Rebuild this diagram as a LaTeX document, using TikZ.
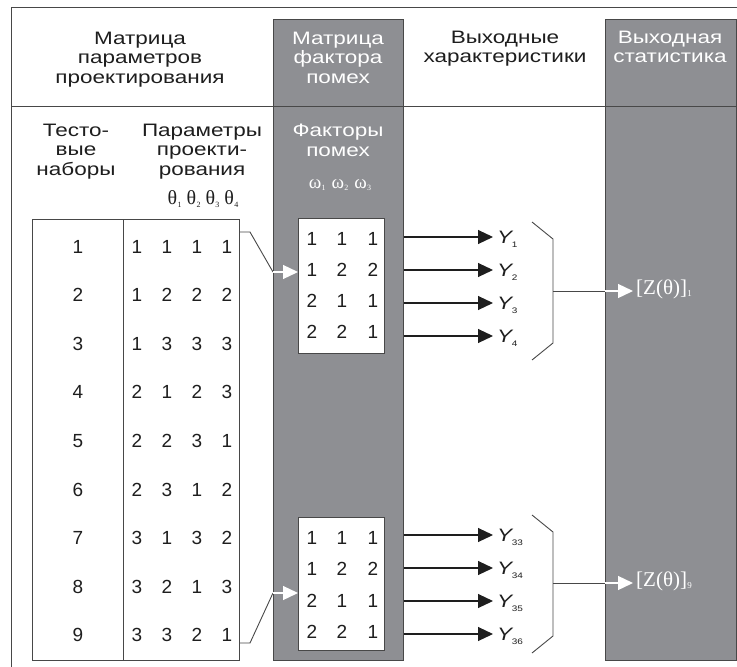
\documentclass[tikz,border=0pt]{standalone}
\usepackage{fontspec}
\setmainfont[FakeStretch=1.25]{Liberation Sans}
\newfontfamily\digitfont{Liberation Sans}
\newfontfamily\serifgreek{Liberation Serif}
\usetikzlibrary{arrows.meta}
\definecolor{panel}{RGB}{142,143,147}
\definecolor{rule}{RGB}{72,72,72}
\definecolor{ink}{RGB}{30,30,30}
\newcommand{\tinysub}[3][-4pt]{\raisebox{#1}{\fontsize{#2}{#2}\selectfont #3}}
\newcommand{\yout}[1]{\textit{Y}\kern-1.8pt\tinysub{8}{#1}}
\newcommand{\thetasub}[1]{θ\kern0.3pt\tinysub[-2.5pt]{8}{#1}}
\newcommand{\omegasub}[1]{ω\kern0.3pt\tinysub[-2.5pt]{8}{#1}}
\newcommand{\zstat}[1]{{\serifgreek\fontsize{21}{21}\selectfont [Z(θ)]\kern0.3pt\tinysub[-2.5pt]{9}{#1}}}
\begin{document}
\begin{tikzpicture}[x=1pt,y=-1pt,
  font=\fontsize{18}{19.4}\selectfont,
  lbl/.style={align=center, text=ink, inner sep=0pt, anchor=north},
  wlbl/.style={align=center, text=white, inner sep=0pt, anchor=north},
  panelcol/.style={draw=rule, fill=panel, line width=0.9pt, inner sep=0pt, anchor=north west},
  frame/.style={draw=rule, line width=0.9pt},
  tablebox/.style={draw=rule, fill=white, line width=0.9pt, inner sep=0pt, anchor=north west},
  cell/.style={inner sep=0pt, text=ink, font=\digitfont\fontsize{19}{19}\selectfont},
  ylbl/.style={inner sep=0pt, text=ink, anchor=base west},
  zlbl/.style={inner sep=0pt, text=white, anchor=west},
  outarrow/.style={draw=ink, line width=1.1pt, -{Triangle[length=15pt,width=14pt]}},
  feed/.style={draw=rule, line width=0.9pt},
  wtip/.style={draw=white, line width=1.3pt, -{Triangle[length=15pt,width=14pt,fill=white]}},
]
\useasboundingbox (0,0) rectangle (737,667);
\fill[white] (0,0) rectangle (737,667);

% outer frame, open at right and bottom
\draw[frame] (11,667) -- (11,7) -- (737,7);

% shaded columns
\node[panelcol, minimum width=130pt, minimum height=641pt] (colN) at (273,19) {};
\node[panelcol, minimum width=131pt, minimum height=641pt] (colS) at (605,19) {};

% rule under the header row
\draw[frame] (11,106) -- (737,106);

% header row
\node[lbl]  (hparam) at (140,32) {Матрица\\параметров\\проектирования};
\node[wlbl] (hnoise) at (338,32) {Матрица\\фактора\\помех};
\node[lbl]  (hout)   at (505,31) {Выходные\\характеристики};
\node[wlbl] (hstat)  at (670,31) {Выходная\\статистика};

% sub-headings
\node[lbl]  (htests)   at (76,124)  {Тесто-\\вые\\наборы};
\node[lbl]  (hdesign)  at (202,124) {Параметры\\проекти-\\рования};
\node[inner sep=0pt, text=ink, font=\serifgreek\fontsize{20}{20}\selectfont] (htheta) at (203,199)
  {\thetasub{1}\hspace{5pt}\thetasub{2}\hspace{5pt}\thetasub{3}\hspace{5pt}\thetasub{4}};
\node[wlbl] (hfactors) at (338,124) {Факторы\\помех};
\node[inner sep=0pt, text=white, font=\serifgreek\fontsize{19}{19}\selectfont] (homega) at (340,185)
  {\omegasub{1}\hspace{6pt}\omegasub{2}\hspace{6pt}\omegasub{3}};

% design matrix: test number and four parameter levels
\node[tablebox, minimum width=207pt, minimum height=441pt] (tbl) at (32,219) {};
\draw[feed] (tbl.north -| 123,0) -- (tbl.south -| 123,0);
\foreach \i/\a/\b/\c/\d in {1/1/1/1/1, 2/1/2/2/2, 3/1/3/3/3, 4/2/1/2/3, 5/2/2/3/1,
                            6/2/3/1/2, 7/3/1/3/2, 8/3/2/1/3, 9/3/3/2/1} {
  \pgfmathsetmacro{\yy}{246.5+(\i-1)*48.6}
  \node[cell] (n\i)  at (78,\yy)  {\i};
  \node[cell] (p\i a) at (137,\yy) {\a};
  \node[cell] (p\i b) at (167,\yy) {\b};
  \node[cell] (p\i c) at (197,\yy) {\c};
  \node[cell] (p\i d) at (227,\yy) {\d};
}

% noise factor matrices
\node[tablebox, minimum width=86pt, minimum height=135pt] (boxA) at (298,218) {};
\node[tablebox, minimum width=86pt, minimum height=133pt] (boxB) at (298,517) {};
\foreach \r/\u/\v/\w in {1/1/1/1, 2/1/2/2, 3/2/1/1, 4/2/2/1} {
  \pgfmathsetmacro{\ya}{239+(\r-1)*31}
  \pgfmathsetmacro{\yb}{538+(\r-1)*31.3}
  \node[cell] (a\r u) at (312,\ya) {\u};
  \node[cell] (a\r v) at (342,\ya) {\v};
  \node[cell] (a\r w) at (373,\ya) {\w};
  \node[cell] (b\r u) at (312,\yb) {\u};
  \node[cell] (b\r v) at (342,\yb) {\v};
  \node[cell] (b\r w) at (373,\yb) {\w};
}

% feeds from test sets 1 and 9 into the noise matrices
\draw[feed] (tbl.east |- 0,232) -- (250,232) -- (colN.west |- 0,272);
\draw[wtip] (colN.west |- 0,272) -- (boxA.west |- 0,272);
\draw[feed] (tbl.east |- 0,643) -- (250,643) -- (colN.west |- 0,593);
\draw[wtip] (colN.west |- 0,593) -- (boxB.west |- 0,593);

% output characteristics
\foreach \r/\s in {1/1, 2/2, 3/3, 4/4} {
  \pgfmathsetmacro{\yy}{237+(\r-1)*33}
  \node[ylbl] (yA\r) at (497,\yy+6.5) {\yout{\s}};
  \draw[outarrow] (colN.east |- 0,\yy) -- ([xshift=-4pt]yA\r.west |- 0,\yy);
}
\foreach \r/\s in {1/33, 2/34, 3/35, 4/36} {
  \pgfmathsetmacro{\yy}{535+(\r-1)*33}
  \node[ylbl] (yB\r) at (497,\yy+6.5) {\yout{\s}};
  \draw[outarrow] (colN.east |- 0,\yy) -- ([xshift=-4pt]yB\r.west |- 0,\yy);
}

% brackets collecting the outputs
\draw[feed] (532,222) -- (553,239) -- (553,343) -- (532,360);
\coordinate (gA) at (553,291);
\node[zlbl] (zA) at (636,289) {\zstat{1}};
\draw[feed] (gA) -- (colS.west |- gA);
\draw[wtip] (colS.west |- gA) -- ([xshift=-3pt]zA.west |- gA);

\draw[feed] (532,515) -- (553,532) -- (553,636) -- (532,653);
\coordinate (gB) at (553,583);
\node[zlbl] (zB) at (636,581) {\zstat{9}};
\draw[feed] (gB) -- (colS.west |- gB);
\draw[wtip] (colS.west |- gB) -- ([xshift=-3pt]zB.west |- gB);
\end{tikzpicture}
\end{document}
